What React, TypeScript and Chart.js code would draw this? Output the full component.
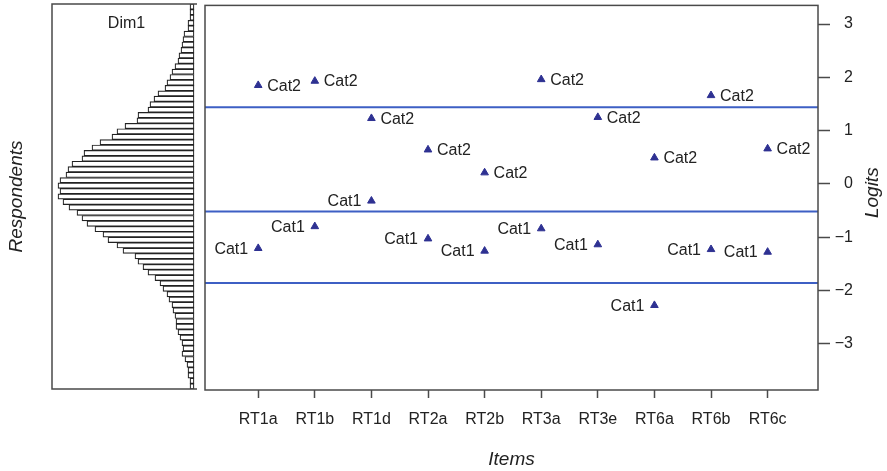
import React, { useEffect, useRef } from "react";
import { Chart, registerables } from "chart.js";

Chart.register(...registerables);

// ---------------- data ----------------
const items = ["RT1a", "RT1b", "RT1d", "RT2a", "RT2b", "RT3a", "RT3e", "RT6a", "RT6b", "RT6c"];
const categoryNames = ["Cat1", "Cat2"];
const cat2Thresholds = [1.85, 1.93, 1.23, 0.64, 0.21, 1.96, 1.25, 0.49, 1.66, 0.66];
const cat1Thresholds = [-1.21, -0.8, -0.32, -1.03, -1.26, -0.84, -1.14, -2.28, -1.23, -1.28];
const bandLines = [1.44, -0.52, -1.86];
const logitTicks = [-3, -2, -1, 0, 1, 2, 3];
const logitMin = -3.87;
const logitMax = 3.35;
// respondent histogram, bins listed from the top (high logits) to the bottom
const respondentCounts = [
  4, 4, 4, 6, 6, 10, 11, 12, 13, 15, 16, 19, 22, 24, 27, 29, 36, 40, 44, 46,
  56, 57, 69, 77, 82, 94, 102, 110, 112, 122, 126, 128, 134, 136, 134, 136, 131, 125, 117, 112,
  107, 99, 91, 86, 77, 71, 59, 56, 51, 46, 39, 34, 31, 27, 25, 22, 21, 19, 18, 18,
  16, 14, 12, 11, 12, 9, 7, 6, 6, 4, 4,
];

const FONT = "'Liberation Sans', Arial, Helvetica, sans-serif";
const TEXT = "#222";
const FRAME = "#4a4a4a";
const LINE_BLUE = "#3d5fc4";
const TRI_BLUE = "#2e3192";

const binWidth = (logitMax - logitMin) / respondentCounts.length;
const histData = respondentCounts.map((c, i) => ({ x: c, y: logitMax - binWidth * (i + 0.5) }));

const leftFramePlugin = {
  id: "leftFrame",
  afterDraw(chart: any) {
    const { ctx, chartArea: a } = chart;
    ctx.save();
    ctx.strokeStyle = FRAME;
    ctx.lineWidth = 1.5;
    ctx.beginPath();
    ctx.moveTo(a.right, a.top);
    ctx.lineTo(a.left, a.top);
    ctx.lineTo(a.left, a.bottom);
    ctx.lineTo(a.right, a.bottom);
    ctx.stroke();
    ctx.fillStyle = TEXT;
    ctx.font = `16px ${FONT}`;
    ctx.textAlign = "center";
    ctx.textBaseline = "middle";
    ctx.fillText("Dim1", (a.left + a.right) / 2 + 2, a.top + 20);
    ctx.restore();
  },
};

const rightFramePlugin = {
  id: "rightFrame",
  afterDatasetsDraw(chart: any) {
    const { ctx } = chart;
    ctx.save();
    ctx.fillStyle = TEXT;
    ctx.font = `16px ${FONT}`;
    ctx.textBaseline = "middle";
    const m2 = chart.getDatasetMeta(bandLines.length);
    ctx.textAlign = "left";
    m2.data.forEach((el: any) => ctx.fillText(categoryNames[1], el.x + 9, el.y + 1));
    const m1 = chart.getDatasetMeta(bandLines.length + 1);
    ctx.textAlign = "right";
    m1.data.forEach((el: any) => ctx.fillText(categoryNames[0], el.x - 10, el.y + 1));
    ctx.restore();
  },
  afterDraw(chart: any) {
    const { ctx, chartArea: a } = chart;
    ctx.save();
    ctx.strokeStyle = FRAME;
    ctx.lineWidth = 1.5;
    ctx.strokeRect(a.left, a.top, a.right - a.left, a.bottom - a.top);
    ctx.fillStyle = TEXT;
    ctx.font = `italic 19px ${FONT}`;
    ctx.textAlign = "center";
    ctx.textBaseline = "middle";
    ctx.translate(a.right + 55, (a.top + a.bottom) / 2 - 5);
    ctx.rotate(-Math.PI / 2);
    ctx.fillText("Logits", 0, 0);
    ctx.restore();
  },
};

export default function App() {
  const leftRef = useRef<HTMLCanvasElement>(null);
  const rightRef = useRef<HTMLCanvasElement>(null);

  useEffect(() => {
    document.body.style.margin = "0";
    Chart.defaults.font.family = FONT;
    Chart.defaults.color = TEXT;

    const left = new Chart(leftRef.current!, {
      type: "bar",
      data: {
        datasets: [
          {
            data: histData as any,
            backgroundColor: "#ffffff",
            borderColor: "#222222",
            borderWidth: 1.2,
            borderSkipped: false,
            barPercentage: 1,
            categoryPercentage: 1,
          },
        ],
      },
      options: {
        indexAxis: "y",
        animation: false,
        responsive: false,
        layout: { padding: { left: 0, top: 4, right: 887 - 197, bottom: 471 - 389 } },
        plugins: { legend: { display: false }, tooltip: { enabled: false } },
        scales: {
          x: { type: "linear", reverse: true, min: -3, max: 142, display: false },
          y: {
            type: "linear",
            offset: false,
            min: logitMin,
            max: logitMax,
            ticks: { display: false },
            grid: { display: false, offset: false },
            border: { display: false },
            title: {
              display: true,
              text: "Respondents",
              color: TEXT,
              font: { size: 19, style: "italic", family: FONT },
              padding: { top: 5, bottom: 0 },
            },
            afterFit(s: any) {
              s.width = 52;
              s.paddingTop = 0;
              s.paddingBottom = 0;
            },
          },
        },
      },
      plugins: [leftFramePlugin],
    });

    const lineSets = bandLines.map((v) => ({
      type: "line" as const,
      data: [
        { x: -0.94, y: v },
        { x: 9.89, y: v },
      ],
      borderColor: LINE_BLUE,
      borderWidth: 2,
      pointRadius: 0,
      fill: false,
    }));

    const right = new Chart(rightRef.current!, {
      type: "scatter",
      data: {
        datasets: [
          ...lineSets,
          {
            type: "scatter" as const,
            data: cat2Thresholds.map((v, i) => ({ x: i, y: v })),
            pointStyle: "triangle",
            pointRadius: 4.4,
            backgroundColor: TRI_BLUE,
            borderColor: TRI_BLUE,
            borderWidth: 1,
          },
          {
            type: "scatter" as const,
            data: cat1Thresholds.map((v, i) => ({ x: i, y: v })),
            pointStyle: "triangle",
            pointRadius: 4.4,
            backgroundColor: TRI_BLUE,
            borderColor: TRI_BLUE,
            borderWidth: 1,
          },
        ] as any,
      },
      options: {
        animation: false,
        responsive: false,
        layout: { padding: { left: 205, top: 4, right: 34, bottom: 0 } },
        plugins: { legend: { display: false }, tooltip: { enabled: false } },
        scales: {
          x: {
            type: "linear",
            min: -0.94,
            max: 9.89,
            afterBuildTicks(s: any) {
              s.ticks = items.map((_, i) => ({ value: i }));
            },
            ticks: {
              callback: (v: any) => items[v as number],
              autoSkip: false,
              maxRotation: 0,
              padding: 12,
              color: TEXT,
              font: { size: 16, family: FONT },
            },
            grid: { drawOnChartArea: false, tickLength: 8, tickColor: FRAME, tickWidth: 1.5 },
            border: { display: false },
            title: {
              display: true,
              text: "Items",
              color: TEXT,
              font: { size: 19, style: "italic", family: FONT },
              padding: { top: 0, bottom: 0 },
            },
            afterFit(s: any) {
              s.height = 81;
              s.paddingLeft = 0;
              s.paddingRight = 0;
            },
          },
          y: {
            type: "linear",
            position: "right",
            min: logitMin,
            max: logitMax,
            afterBuildTicks(s: any) {
              s.ticks = logitTicks.map((v) => ({ value: v }));
            },
            ticks: {
              callback: (v: any) => String(v).replace("-", "\u2212"),
              padding: 5,
              crossAlign: "far",
              color: TEXT,
              font: { size: 16, family: FONT },
            },
            grid: { drawOnChartArea: false, tickLength: 12, tickColor: FRAME, tickWidth: 1.5 },
            border: { display: false },
            afterFit(s: any) {
              s.width = 35;
              s.paddingTop = 0;
              s.paddingBottom = 0;
            },
          },
        },
      },
      plugins: [rightFramePlugin],
    });

    return () => {
      left.destroy();
      right.destroy();
    };
  }, []);

  const canvasStyle: React.CSSProperties = { position: "absolute", left: 0, top: 0 };
  return (
    <div style={{ position: "fixed", left: 0, top: 0, width: 887, height: 471, background: "#fff" }}>
      <canvas ref={rightRef} width={887} height={471} style={canvasStyle} />
      <canvas ref={leftRef} width={887} height={471} style={canvasStyle} />
    </div>
  );
}
